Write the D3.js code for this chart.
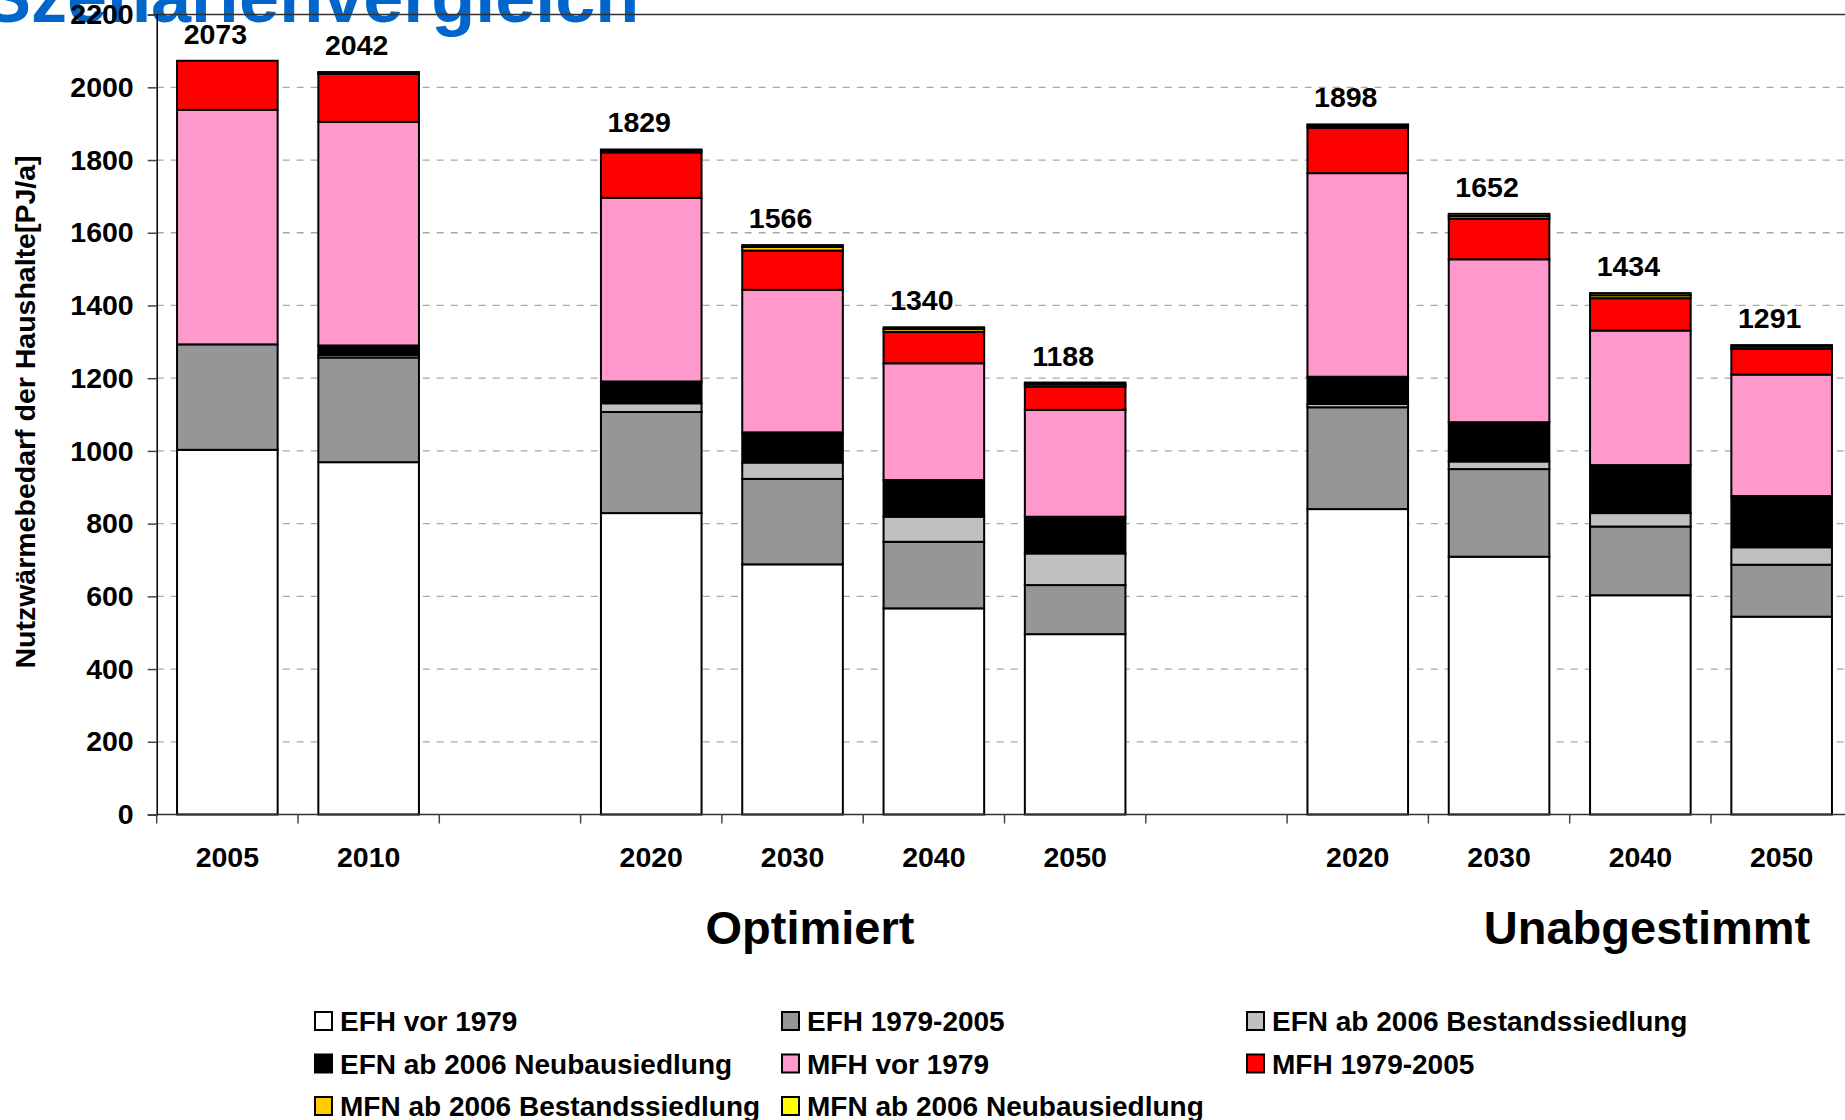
<!DOCTYPE html>
<html lang="de">
<head>
<meta charset="utf-8">
<title>Szenarienvergleich</title>
<script src="https://cdn.jsdelivr.net/npm/d3@7"></script>
<style>
  html, body { margin: 0; padding: 0; background: #ffffff; overflow: hidden; }
  svg { display: block; font-family: "Liberation Sans", Arial, Helvetica, sans-serif; }
</style>
</head>
<body>
<svg id="chart" width="1845" height="1120"></svg>
<script>
// Category slots (empty strings are spacer slots between the scenario groups)
const slotLabels = ["2005", "2010", "", "2020", "2030", "2040", "2050", "", "2020", "2030", "2040", "2050"];

// Useful heat demand of households [PJ/a], per building class
const efhVor1979   = [1003, 969, null, 829, 688, 567, 496, null, 840, 709, 603, 544];
const efh1979_2005 = [290, 288, null, 278, 235, 183, 135, null, 280, 241, 189, 143];
const efnBestand   = [0, 7, null, 24, 45, 69, 87, null, 9, 21, 37, 48];
const efnNeubau    = [0, 26, null, 60, 83, 101, 101, null, 75, 108, 132, 141];
const mfhVor1979   = [645, 615, null, 505, 392, 321, 294, null, 560, 448, 370, 334];
const mfh1979_2005 = [135, 132, null, 125, 108, 86, 64, null, 125, 112, 89, 71];
const mfnBestand   = [0, 3, null, 5, 10, 8, 6, null, 5, 7, 8, 6];
const mfnNeubau    = [0, 2, null, 3, 5, 5, 5, null, 4, 6, 6, 4];

// Totals printed above each column
const totals = [2073, 2042, null, 1829, 1566, 1340, 1188, null, 1898, 1652, 1434, 1291];

const seriesNames = [
  "EFH vor 1979", "EFH 1979-2005", "EFN ab 2006 Bestandssiedlung", "EFN ab 2006 Neubausiedlung",
  "MFH vor 1979", "MFH 1979-2005", "MFN ab 2006 Bestandssiedlung", "MFN ab 2006 Neubausiedlung"
];
const seriesValues = [efhVor1979, efh1979_2005, efnBestand, efnNeubau, mfhVor1979, mfh1979_2005, mfnBestand, mfnNeubau];
const seriesColors = ["#ffffff", "#969696", "#c0c0c0", "#000000", "#ff99cc", "#ff0000", "#ffcc00", "#ffff00"];

const yTicks = [0, 200, 400, 600, 800, 1000, 1200, 1400, 1600, 1800, 2000, 2200];
const groupLabels = ["Optimiert", "Unabgestimmt"];

// ---- layout ----
const plotLeft = 156.7, slotStep = 141.3;
const plotRight = plotLeft + slotStep * slotLabels.length;
const yBottom = 814.5, yTop = 14.6;
const FONT = 28.5;

const svg = d3.select("#chart");

// Title (partially above the visible area)
svg.append("text")
  .attr("x", -17).attr("y", 22)
  .attr("font-size", 72).attr("font-weight", "bold")
  .attr("fill", "#0066cc")
  .text("Szenarienvergleich");

const x = d3.scaleBand()
  .domain(d3.range(slotLabels.length))
  .range([plotLeft, plotRight])
  .paddingInner(0.288)
  .paddingOuter(0.144);

const y = d3.scaleLinear().domain([0, 2200]).range([yBottom, yTop]);

// Rows for the stack
const rows = slotLabels.map((lab, i) => {
  const r = { idx: i };
  seriesNames.forEach((n, s) => { r[n] = seriesValues[s][i] || 0; });
  return r;
});
const stacked = d3.stack().keys(seriesNames)(rows);

// Gridlines
svg.append("g").selectAll("line")
  .data(yTicks.filter(t => t > 0 && t < 2200))
  .join("line")
  .attr("x1", plotLeft).attr("x2", plotRight)
  .attr("y1", d => y(d)).attr("y2", d => y(d))
  .attr("stroke", "#a8a8a8").attr("stroke-width", 1.3)
  .attr("stroke-dasharray", "7,7");

// Plot-area top border
svg.append("line")
  .attr("x1", plotLeft).attr("x2", plotRight)
  .attr("y1", y(2200)).attr("y2", y(2200))
  .attr("stroke", "#333333").attr("stroke-width", 1.5);

// Stacked bars
const layers = svg.append("g").selectAll("g")
  .data(stacked)
  .join("g")
  .attr("fill", (d, i) => seriesColors[i]);

layers.selectAll("rect")
  .data(d => d.filter(p => slotLabels[p.data.idx] !== "" && p[1] - p[0] > 0))
  .join("rect")
  .attr("x", p => x(p.data.idx))
  .attr("width", x.bandwidth())
  .attr("y", p => y(p[1]))
  .attr("height", p => y(p[0]) - y(p[1]))
  .attr("stroke", "#000000")
  .attr("stroke-width", 2);

// Y axis
const yAxis = d3.axisLeft(y).tickValues(yTicks).tickSize(9).tickPadding(14).tickFormat(d3.format("d"));
const gy = svg.append("g").attr("transform", `translate(${plotLeft},0)`).call(yAxis);
gy.select(".domain").attr("stroke", "#000").attr("stroke-width", 1.5);
gy.selectAll(".tick line").attr("stroke", "#444").attr("stroke-width", 1.5);
gy.selectAll(".tick text")
  .attr("font-size", FONT).attr("font-weight", "bold").attr("fill", "#000")
  .attr("font-family", "Liberation Sans, Arial, sans-serif");

// X axis: baseline, ticks on slot boundaries, year labels centred in slots
svg.append("line")
  .attr("x1", plotLeft).attr("x2", plotRight)
  .attr("y1", yBottom).attr("y2", yBottom)
  .attr("stroke", "#333").attr("stroke-width", 1.5);

const boundaries = d3.range(slotLabels.length + 1).map(i => plotLeft + i * x.step());
svg.append("g").selectAll("line")
  .data(boundaries)
  .join("line")
  .attr("x1", d => d).attr("x2", d => d)
  .attr("y1", yBottom).attr("y2", yBottom + 9)
  .attr("stroke", "#444").attr("stroke-width", 1.5);

const xAxis = d3.axisBottom(x).tickSize(0).tickPadding(0).tickFormat(i => slotLabels[i]);
const gx = svg.append("g").attr("transform", `translate(0,${yBottom})`).call(xAxis);
gx.select(".domain").remove();
gx.selectAll(".tick text")
  .attr("dy", null).attr("y", 52)
  .attr("font-size", FONT).attr("font-weight", "bold").attr("fill", "#000")
  .attr("font-family", "Liberation Sans, Arial, sans-serif");

// Total labels above columns
svg.append("g").selectAll("text")
  .data(totals.map((t, i) => ({ t, i })).filter(d => d.t !== null))
  .join("text")
  .attr("x", d => x(d.i) + x.bandwidth() / 2 - 12)
  .attr("y", d => y(d.t) - 17)
  .attr("text-anchor", "middle")
  .attr("font-size", FONT).attr("font-weight", "bold").attr("fill", "#000")
  .text(d => d.t);

// Scenario group labels
svg.append("text")
  .attr("x", 810).attr("y", 944)
  .attr("text-anchor", "middle")
  .attr("font-size", 47).attr("font-weight", "bold").attr("fill", "#000")
  .text(groupLabels[0]);
svg.append("text")
  .attr("x", 1647).attr("y", 944)
  .attr("text-anchor", "middle")
  .attr("font-size", 47).attr("font-weight", "bold").attr("fill", "#000")
  .text(groupLabels[1]);

// Y axis title
svg.append("text")
  .attr("transform", "translate(35,412) rotate(-90)")
  .attr("text-anchor", "middle")
  .attr("font-size", 28.5).attr("font-weight", "bold").attr("fill", "#000")
  .text("Nutzwärmebedarf der Haushalte[PJ/a]");

// Legend: three columns, filled row by row
const legendCols = [315, 782, 1247];
const legendRowY = [1021, 1063.5, 1106];
const legend = svg.append("g").selectAll("g")
  .data(seriesNames)
  .join("g")
  .attr("transform", (d, i) => `translate(${legendCols[i % 3]},${legendRowY[Math.floor(i / 3)]})`);
legend.append("rect")
  .attr("x", 0).attr("y", -9).attr("width", 17).attr("height", 18)
  .attr("fill", (d, i) => seriesColors[i])
  .attr("stroke", "#000").attr("stroke-width", 2);
legend.append("text")
  .attr("x", 25).attr("y", 10)
  .attr("font-size", 28).attr("font-weight", "bold").attr("fill", "#000")
  .text(d => d);
</script>
</body>
</html>
